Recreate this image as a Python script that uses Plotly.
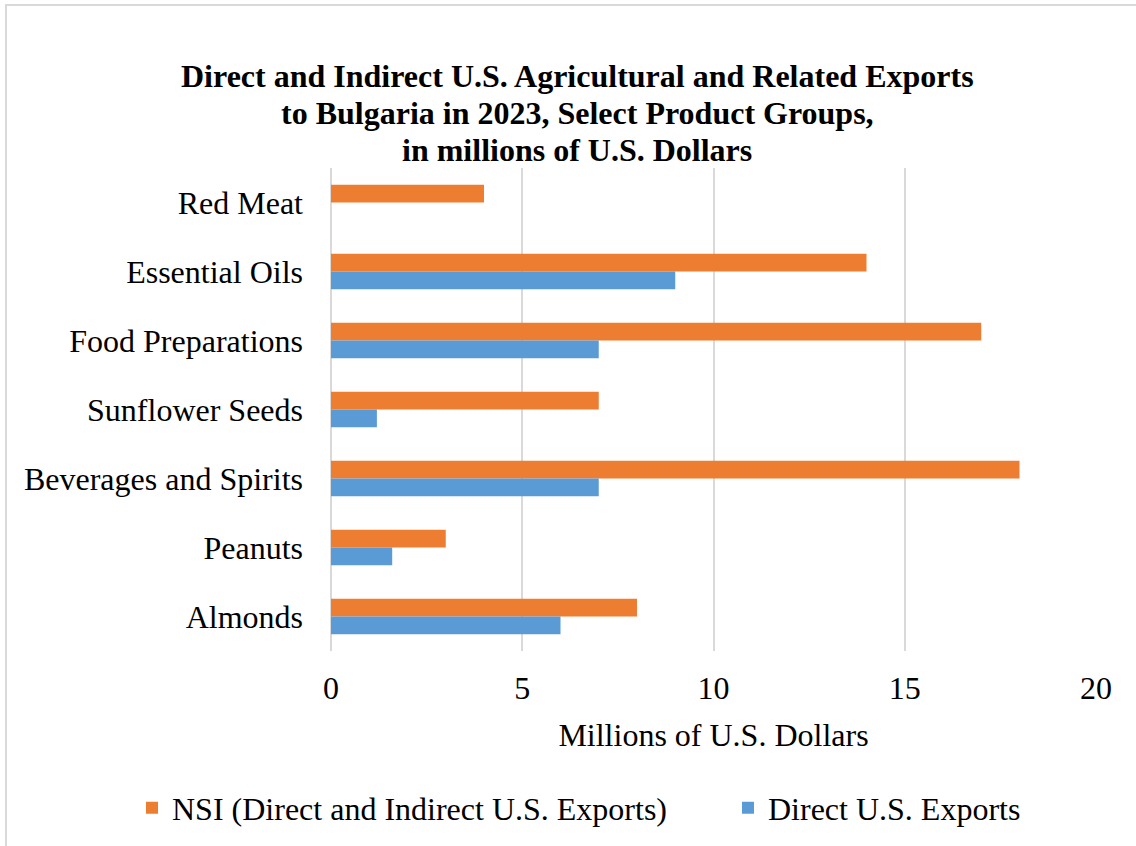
import plotly.graph_objects as go

categories = ["Red Meat", "Essential Oils", "Food Preparations", "Sunflower Seeds",
              "Beverages and Spirits", "Peanuts", "Almonds"]
nsi_values = [4, 14, 17, 7, 18, 3, 8]
direct_values = [0, 9, 7, 1.2, 7, 1.6, 6]
x_ticks = [0, 5, 10, 15, 20]
title_lines = ["Direct and Indirect U.S. Agricultural and Related Exports",
               "to Bulgaria in 2023, Select Product Groups,",
               "in millions of U.S. Dollars"]
series_names = ["NSI (Direct and Indirect U.S. Exports)", "Direct U.S. Exports"]

FONT = "Liberation Serif, Times New Roman, serif"
FS = 32

W, H = 1136, 846
L, T = 331, 168
R = W - 1096
B = H - 651
pw, ph = W - L - R, H - T - B


def px_x(p):  # page x -> paper
    return (p - L) / pw


def px_y(p):  # page y -> paper
    return (H - B - p) / ph


fig = go.Figure()
fig.add_trace(go.Bar(
    y=categories, x=nsi_values, orientation="h",
    name=series_names[0] + "\u00a0" * 7,
    marker=dict(color="#ED7D31", line=dict(width=0)),
))
fig.add_trace(go.Bar(
    y=categories, x=direct_values, orientation="h",
    name=series_names[1],
    marker=dict(color="#5B9BD5", line=dict(width=0)),
))

fig.update_layout(
    width=W, height=H,
    margin=dict(l=L, r=R, t=T, b=B, autoexpand=False),
    paper_bgcolor="white", plot_bgcolor="white",
    barmode="group", bargap=0.487, bargroupgap=0,
    font=dict(family=FONT, size=FS, color="black"),
    xaxis=dict(
        range=[0, 20], tickvals=x_ticks, ticktext=[str(v) for v in x_ticks],
        showgrid=True, gridcolor="#D9D9D9", gridwidth=2,
        zeroline=True, zerolinecolor="#D9D9D9", zerolinewidth=2,
        showline=False, ticks="", ticklabelstandoff=15,
        tickfont=dict(family=FONT, size=FS, color="black"),
        title=dict(text="Millions of U.S. Dollars", standoff=18,
                   font=dict(family=FONT, size=FS, color="black")),
        fixedrange=True,
    ),
    yaxis=dict(
        categoryorder="array", categoryarray=categories, autorange="reversed",
        showgrid=False, showline=False, ticks="", ticklabelstandoff=27,
        tickfont=dict(family=FONT, size=FS, color="black"),
        fixedrange=True,
    ),
    legend=dict(
        orientation="h", xref="paper", yref="paper",
        x=px_x(132), xanchor="left",
        y=px_y(808), yanchor="middle",
        font=dict(family=FONT, size=FS, color="black"),
        traceorder="normal", borderwidth=0,
    ),
    showlegend=True,
)

for line, yref_px in zip(title_lines, [76, 113, 150]):
    fig.add_annotation(
        text="<b>" + line + "</b>", showarrow=False,
        xref="paper", yref="paper", x=px_x(577), y=px_y(yref_px),
        xanchor="center", yanchor="middle",
        font=dict(family=FONT, size=FS, color="black"),
    )

fig.add_shape(
    type="rect", xref="paper", yref="paper",
    x0=px_x(6), x1=px_x(1160), y0=px_y(870), y1=px_y(5),
    line=dict(color="#D9D9D9", width=2), fillcolor="rgba(0,0,0,0)", layer="below",
)

fig.write_html(
    "out.html",
    config={"displayModeBar": False},
    post_script="document.body.style.margin='0px';document.body.style.overflow='hidden';",
)
